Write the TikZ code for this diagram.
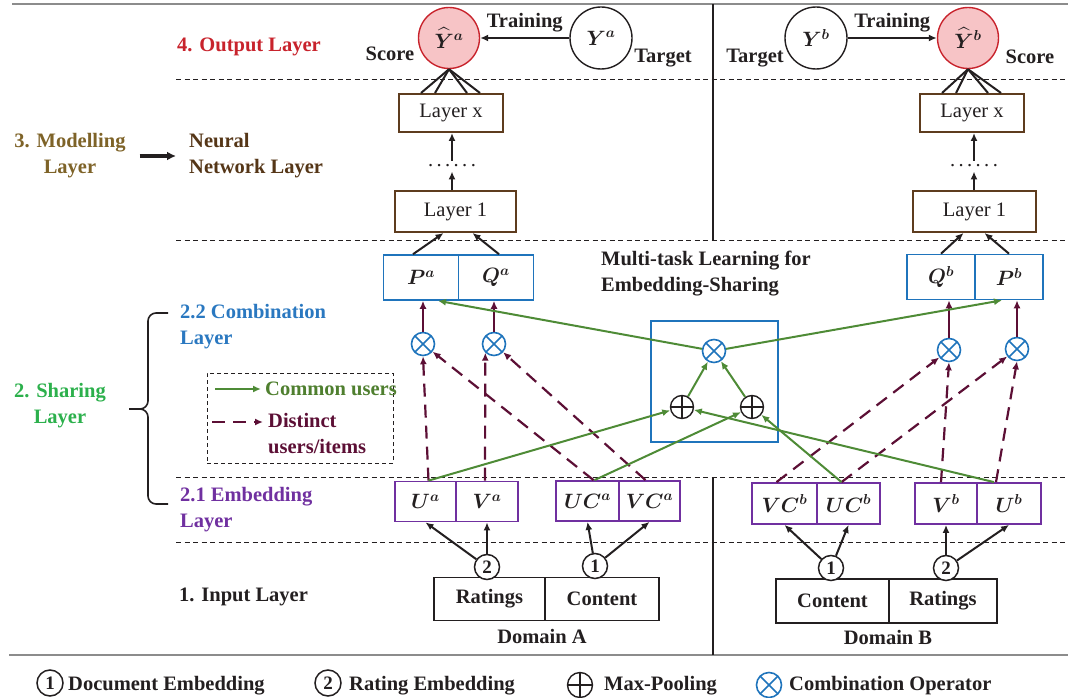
\documentclass[tikz,border=0pt]{standalone}
\usepackage{fontspec}
\setmainfont{Liberation Serif}
\usepackage{amsmath}
\usepackage{bm}
\usetikzlibrary{arrows.meta}

\definecolor{ink}{HTML}{231F20}
\definecolor{outred}{HTML}{C8232C}
\definecolor{outpink}{HTML}{F7C4C6}
\definecolor{nnbrown}{HTML}{5E3C1E}
\definecolor{nntext}{HTML}{553617}
\definecolor{modtext}{HTML}{7E6328}
\definecolor{cblue}{HTML}{1F74BC}
\definecolor{cbtext}{HTML}{2A78C0}
\definecolor{empurple}{HTML}{7030A0}
\definecolor{lgreen}{HTML}{4E8B36}
\definecolor{cutext}{HTML}{4F7F2F}
\definecolor{shgreen}{HTML}{2CB04C}
\definecolor{maroon}{HTML}{5C0F35}
\definecolor{rulegray}{HTML}{8C8C8C}

% variables with a superscript, and hatted predictions
\newcommand{\mv}[2]{{\fontsize{22}{26}\selectfont$\bm{#1}^{\bm{#2}}$}}
\newcommand{\hv}[2]{{\fontsize{22}{26}\selectfont$\widehat{\bm{#1}}^{\bm{#2}}$}}

\tikzset{
  layerline/.style={ink, line width=0.9pt, dash pattern=on 5pt off 3.5pt},
  rule/.style={rulegray, line width=1.5pt},
  divider/.style={ink, line width=2.4pt},
  scorec/.style={circle, draw=outred, fill=outpink, line width=1.4pt, minimum size=61pt, inner sep=0pt},
  targetc/.style={circle, draw=ink, line width=1.4pt, minimum size=62pt, inner sep=0pt},
  nnbox/.style={draw=nnbrown, line width=2pt, minimum height=38pt, inner sep=0pt,
    font=\fontsize{20.5}{26}\selectfont\mdseries},
  cbbox/.style={draw=cblue, line width=1.6pt, minimum width=75pt, minimum height=45pt, inner sep=0pt},
  embox/.style={draw=empurple, line width=1.8pt, minimum height=40pt, inner sep=0pt},
  inbox/.style={draw=ink, line width=1.8pt, minimum height=43pt, inner sep=0pt},
  combop/.style={circle, draw=cblue, line width=1.6pt, minimum size=23pt, inner sep=0pt, fill=white,
    path picture={\draw[cblue, line width=1.6pt]
      (path picture bounding box.north west) -- (path picture bounding box.south east)
      (path picture bounding box.north east) -- (path picture bounding box.south west);}},
  maxpool/.style={circle, draw=ink, line width=1.4pt, minimum size=23pt, inner sep=0pt, fill=white,
    path picture={\draw[ink, line width=1.4pt]
      (path picture bounding box.north) -- (path picture bounding box.south)
      (path picture bounding box.west) -- (path picture bounding box.east);}},
  numc/.style={circle, draw=ink, line width=1.5pt, minimum size=25pt, inner sep=0pt, fill=white,
    font=\fontsize{19}{19}\selectfont\bfseries},
  feed/.style={->, ink, line width=2pt},
  common/.style={->, lgreen, line width=2pt},
  distinct/.style={->, maroon, line width=2.2pt, dash pattern=on 13pt off 8pt},
  direct/.style={->, maroon, line width=2.2pt},
  lbl/.style={inner sep=0pt},
}

\begin{document}
\begin{tikzpicture}[x=1pt, y=-1pt, font=\fontsize{20.5}{26}\selectfont\bfseries, text=ink,
  >={Latex[length=8pt,width=7pt]}]
\useasboundingbox (0,0) rectangle (1068,698);

% frame rules, domain divider and layer separators
\draw[rule] (12,4) -- (1068,4);
\draw[rule] (9,655) -- (1068,655);
\draw[divider] (713,4) -- (713,240);
\draw[divider] (713,477) -- (713,655);
\foreach \yy in {79,240,477,542} \draw[layerline] (176,\yy) -- (1068,\yy);

% layer names on the left
\node[lbl, text=outred] (outl) at (249,47) {4. Output Layer};
\node[lbl, text=modtext, align=center] (ml) at (70,156) {3. Modelling\\Layer};
\node[lbl, text=nntext, align=left, anchor=west] (nn) at (189,156) {Neural\\Network Layer};
\draw[->, ink, line width=3pt, >={Latex[length=9pt,width=9pt]}] ([xshift=14pt]ml.east) -- ([xshift=-13pt]nn.west);
\node[lbl, text=cbtext, align=left, anchor=west] (cbl) at (180,327) {2.2 Combination\\Layer};
\node[lbl, text=shgreen, align=center] (shl) at (60,406) {2. Sharing\\Layer};
\node[lbl, text=empurple, align=left, anchor=west] (eml) at (180,510) {2.1 Embedding\\Layer};
\node[lbl, anchor=west] (inl) at (179,597) {1. Input Layer};
\draw[ink, line width=1.6pt, rounded corners=8pt] (168,313) -- (148,313) -- (148,409) -- (129,409);
\draw[ink, line width=1.6pt, rounded corners=8pt] (168,504) -- (148,504) -- (148,409) -- (129,409);

% output layer
\node[scorec] (yha) at (449,38) {\hv{Y}{a}};
\node[targetc] (ya) at (601,38) {\mv{Y}{a}};
\node[targetc] (yb) at (816,38) {\mv{Y}{b}};
\node[scorec] (yhb) at (968,38) {\hv{Y}{b}};
\draw[feed, line width=2.5pt] (ya) -- node[above=1pt] {Training} (yha);
\draw[feed, line width=2.5pt] (yb) -- node[above=1pt] {Training} (yhb);
\node[lbl] (sca) at (390,54) {Score};
\node[lbl] (tga) at (663,58) {Target};
\node[lbl] (tgb) at (755,58) {Target};
\node[lbl] (scb) at (1030,57) {Score};

% neural network layers
\node[nnbox, minimum width=104pt] (lxa) at (451,113) {Layer x};
\node[nnbox, minimum width=121pt, minimum height=41pt] (l1a) at (455.5,211.5) {Layer 1};
\node[nnbox, minimum width=104pt] (lxb) at (972,113) {Layer x};
\node[nnbox, minimum width=123pt, minimum height=41pt] (l1b) at (974.5,211.5) {Layer 1};
\node[anchor=base, inner sep=4pt, font=\fontsize{20.5}{26}\selectfont\mdseries] (da) at (452,167) {.\,.\,.\,.\,.\,.};
\node[anchor=base, inner sep=4pt, font=\fontsize{20.5}{26}\selectfont\mdseries] (db) at (974,167) {.\,.\,.\,.\,.\,.};
\draw[feed] (da.south |- l1a.north) -- (da.south);
\draw[feed] (da.north) -- (da.north |- lxa.south);
\draw[feed] (db.south |- l1b.north) -- (db.south);
\draw[feed] (db.north) -- (db.north |- lxb.south);
\foreach \dx in {-30,-16,16,29} {
  \draw[ink, line width=2pt] ([xshift=\dx pt]lxa.north) -- (yha.south);
  \draw[ink, line width=2pt] ([xshift=\dx pt]lxb.north) -- (yhb.south);
}

% combination layer
\node[cbbox] (Pa) at (421,277.5) {\mv{P}{a}};
\node[cbbox] (Qa) at (496,277.5) {\mv{Q}{a}};
\node[cbbox, minimum width=68pt] (Qb) at (941,277) {\mv{Q}{b}};
\node[cbbox, minimum width=68pt] (Pb) at (1009,277) {\mv{P}{b}};
\draw[feed] ([xshift=-8pt]Pa.north) -- ([xshift=-12pt]l1a.south);
\draw[feed] ([xshift=3pt]Qa.north) -- ([xshift=17pt]l1a.south);
\draw[feed] (Qb.north) -- ([xshift=-11pt]l1b.south);
\draw[feed] (Pb.north) -- ([xshift=10pt]l1b.south);

\node[lbl, align=left, anchor=west] (mtt) at (601,274) {Multi-task Learning for\\Embedding-Sharing};
\node[draw=cblue, line width=1.6pt, minimum width=127pt, minimum height=121pt, inner sep=0pt] (mtl) at (714.5,381.5) {};

% embedding layer
\node[embox, minimum width=61pt] (Ua) at (425.5,501.5) {\mv{U}{a}};
\node[embox, minimum width=62pt] (Va) at (487,501.5) {\mv{V}{a}};
\node[embox, minimum width=63pt] (UCa) at (587.5,501) {\mv{UC}{a}};
\node[embox, minimum width=61pt] (VCa) at (649.5,501) {\mv{VC}{a}};
\node[embox, minimum width=65pt, minimum height=41pt] (VCb) at (784.5,503.5) {\mv{VC}{b}};
\node[embox, minimum width=63pt, minimum height=41pt] (UCb) at (848.5,503.5) {\mv{UC}{b}};
\node[embox, minimum width=62pt, minimum height=41pt] (Vb) at (946,503.5) {\mv{V}{b}};
\node[embox, minimum width=64pt, minimum height=41pt] (Ub) at (1009,503.5) {\mv{U}{b}};

% operators
\node[combop] (cPa) at (423,344) {};
\node[combop] (cQa) at (494,344) {};
\node[combop] (cQb) at (949,350) {};
\node[combop] (cPb) at (1017,349) {};
\node[combop] (cC) at (714,351) {};
\node[maxpool] (pmL) at (682,407) {};
\node[maxpool] (pmR) at (752,407) {};

% distinct users/items
\draw[distinct] ([xshift=3pt]Ua.north) -- (cPa.south);
\draw[distinct] ([xshift=-2pt]Va.north) -- (cQa.225);
\draw[distinct] ([xshift=6pt]UCa.north) -- (cPa);
\draw[distinct] ([xshift=-4pt]VCa.north) -- (cQa);
\draw[distinct] ([xshift=-8pt]VCb.north) -- (cQb);
\draw[distinct] ([xshift=-7pt]UCb.north) -- (cPb);
\draw[distinct] ([xshift=-5pt]Vb.north) -- (cQb.south);
\draw[distinct] ([xshift=-13pt]Ub.north) -- (cPb.south);
\draw[direct] (cPa.north) -- (cPa.north |- Pa.south);
\draw[direct] (cQa.north) -- (cQa.north |- Qa.south);
\draw[direct] (cQb.north) -- (cQb.north |- Qb.south);
\draw[direct] (cPb.north) -- (cPb.north |- Pb.south);

% common users
\draw[common] ([xshift=3pt]Ua.north) -- (pmL);
\draw[common] ([xshift=7pt]UCa.north) -- (pmR);
\draw[common] ([xshift=-15pt]Ub.north) -- (pmL);
\draw[common] ([xshift=-7pt]UCb.north) -- (pmR);
\draw[common] (pmL) -- (cC);
\draw[common] (pmR) -- (cC);
\draw[common] (cC) -- ([xshift=17pt]Pa.south);
\draw[common] (cC) -- ([xshift=-7pt]Pb.south);

% line legend
\node[draw=ink, line width=1pt, dash pattern=on 4pt off 3pt, minimum width=186pt, minimum height=90pt, inner sep=0pt] (lgd) at (300,418) {};
\coordinate (lg1) at (215,389);
\coordinate (lg2) at (212,422);
\node[lbl, anchor=west, text=cutext] (cu) at (265,389) {Common users};
\node[lbl, anchor=west, align=left, text=maroon] (du) at (268,434) {Distinct\\users/items};
\draw[common] (lg1) -- ([xshift=-4pt]cu.west);
\draw[distinct] (lg2) -- ([xshift=-5pt, yshift=12pt]du.west);

% input layer
\node[inbox, minimum width=111pt] (RA) at (489.5,599) {Ratings};
\node[inbox, minimum width=114pt] (CA) at (602,599) {Content};
\node[inbox, minimum width=113pt, minimum height=44pt] (CB) at (832.5,601) {Content};
\node[inbox, minimum width=108pt, minimum height=44pt] (RB) at (943,601) {Ratings};
\node[numc] (n2a) at (487,567) {2};
\node[numc] (n1a) at (595,566) {1};
\node[numc] (n1b) at (831,568) {1};
\node[numc] (n2b) at (946,568) {2};
\draw[feed] (n2a) -- (Ua.south);
\draw[feed] (n2a) -- (Va.south);
\draw[feed] (n1a) -- (UCa.south);
\draw[feed] (n1a) -- (VCa.south);
\draw[feed] (n1b) -- (VCb.south);
\draw[feed] (n1b) -- (UCb.south);
\draw[feed] (n2b) -- (Vb.south);
\draw[feed] (n2b) -- (Ub.south);
\node[lbl] (doma) at (542,636) {Domain A};
\node[lbl] (domb) at (888,637) {Domain B};

% symbol legend
\node[numc, minimum size=26pt] (lc1) at (50,683) {1};
\node[lbl, anchor=base west] (lt1) at (68,690) {Document Embedding};
\node[numc, minimum size=26pt] (lc2) at (328,683) {2};
\node[lbl, anchor=base west] (lt2) at (349,690) {Rating Embedding};
\node[maxpool, minimum size=25pt] (lmp) at (580,685) {};
\node[lbl, anchor=base west] (lt3) at (604,690) {Max-Pooling};
\node[combop, minimum size=25pt] (lco) at (769,685) {};
\node[lbl, anchor=base west] (lt4) at (789,690) {Combination Operator};
\end{tikzpicture}
\end{document}
